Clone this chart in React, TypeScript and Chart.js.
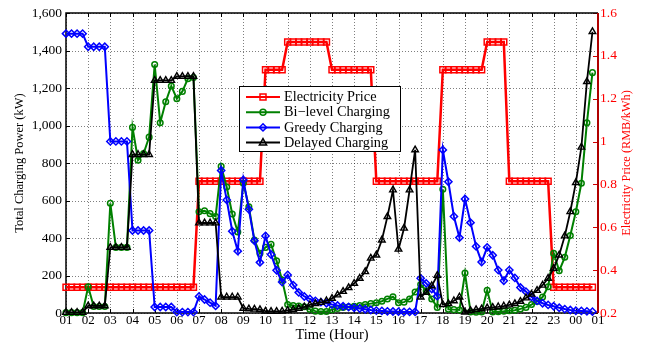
import React, { useEffect, useRef } from 'react';
import { Chart, registerables } from 'chart.js';

Chart.register(...registerables);

// 25 hour tick labels (every 4 quarter-hour steps)
const HOUR_LABELS = [
  '01', '02', '03', '04', '05', '06', '07', '08', '09', '10', '11', '12',
  '13', '14', '15', '16', '17', '18', '19', '20', '21', '22', '23', '00', '01',
];

// 96 quarter-hour samples, starting 01:00
const PRICE = [
  0.32, 0.32, 0.32, 0.32, 0.32, 0.32, 0.32, 0.32, 0.32, 0.32, 0.32, 0.32,
  0.32, 0.32, 0.32, 0.32, 0.32, 0.32, 0.32, 0.32, 0.32, 0.32, 0.32, 0.32,
  0.815, 0.815, 0.815, 0.815, 0.815, 0.815, 0.815, 0.815, 0.815, 0.815, 0.815, 0.815,
  1.335, 1.335, 1.335, 1.335,
  1.465, 1.465, 1.465, 1.465, 1.465, 1.465, 1.465, 1.465,
  1.335, 1.335, 1.335, 1.335, 1.335, 1.335, 1.335, 1.335,
  0.815, 0.815, 0.815, 0.815, 0.815, 0.815, 0.815, 0.815, 0.815, 0.815, 0.815, 0.815,
  1.335, 1.335, 1.335, 1.335, 1.335, 1.335, 1.335, 1.335,
  1.465, 1.465, 1.465, 1.465,
  0.815, 0.815, 0.815, 0.815, 0.815, 0.815, 0.815, 0.815,
  0.32, 0.32, 0.32, 0.32, 0.32, 0.32, 0.32, 0.32,
];

const BILEVEL = [
  2, 2, 2, 2,
  140, 35, 35, 35,
  585, 350, 350, 350,
  990, 815, 850, 938,
  1325, 1015, 1127, 1211,
  1143, 1182, 1250, 1256,
  540, 545, 530, 515,
  782, 672, 528, 432,
  692, 567, 389, 318,
  350, 366, 278, 176,
  45, 40, 37, 33,
  20, 10, 8, 8,
  18, 24, 29, 33,
  36, 40, 45, 50,
  55, 63, 75, 87,
  55, 58, 75, 112,
  152, 118, 75, 30,
  660, 20, 18, 16,
  213, 6, 4, 5,
  121, 5, 7, 9,
  12, 15, 22, 30,
  45, 62, 85, 140,
  318, 225, 297, 413,
  540, 692, 1015, 1282,
];

const GREEDY = [
  1490, 1490, 1490, 1490,
  1420, 1420, 1420, 1420,
  915, 915, 915, 915,
  440, 440, 440, 440,
  32, 32, 32, 32,
  5, 5, 5, 5,
  88, 72, 55, 38,
  760, 603, 436, 330,
  710, 553, 385, 270,
  411, 312, 228, 165,
  203, 149, 110, 88,
  75, 65, 58, 52,
  45, 40, 36, 32,
  28, 24, 20, 16,
  13, 11, 9, 8,
  7, 6, 6, 6,
  185, 158, 128, 90,
  870, 700, 515, 402,
  608, 482, 355, 272,
  350, 308, 229, 172,
  229, 187, 136, 114,
  86, 65, 52, 43,
  36, 28, 21, 16,
  12, 11, 9, 7,
];

const DELAYED = [
  3, 3, 3, 3,
  38, 38, 38, 38,
  350, 350, 350, 350,
  845, 845, 845, 845,
  1240, 1240, 1240, 1240,
  1262, 1262, 1262, 1262,
  480, 480, 480, 480,
  85, 85, 85, 85,
  25, 22, 20, 18,
  10, 8, 8, 10,
  14, 18, 24, 32,
  43, 50, 56, 65,
  78, 96, 115, 135,
  158, 185, 220, 292,
  309, 389, 514, 656,
  340, 452, 656, 870,
  85, 110, 145, 200,
  45, 50, 65, 85,
  5, 12, 18, 22,
  27, 30, 33, 37,
  43, 50, 62, 80,
  100, 120, 148, 185,
  238, 309, 411, 540,
  695, 884, 1234, 1500,
];

const SERIES_LABELS = ['Electricity Price', 'Bi\u2212level Charging', 'Greedy Charging', 'Delayed Charging'];
const SERIES_COLORS = ['#ff0000', '#008000', '#0000ff', '#000000'];
const SERIES_MARKERS = ['rect', 'circle', 'rectRot', 'triangle'];

const SERIF = "'Liberation Serif', 'Times New Roman', serif";

const toXY = (arr: number[]) => arr.map((v, i) => ({ x: i, y: v }));

function drawMarker(ctx: CanvasRenderingContext2D, style: string, cx: number, cy: number) {
  ctx.beginPath();
  if (style === 'rect') {
    ctx.rect(cx - 3, cy - 3, 6, 6);
  } else if (style === 'circle') {
    ctx.arc(cx, cy, 3, 0, Math.PI * 2);
  } else if (style === 'rectRot') {
    ctx.moveTo(cx, cy - 3.6);
    ctx.lineTo(cx + 3.6, cy);
    ctx.lineTo(cx, cy + 3.6);
    ctx.lineTo(cx - 3.6, cy);
    ctx.closePath();
  } else {
    ctx.moveTo(cx, cy - 4);
    ctx.lineTo(cx + 3.6, cy + 2.4);
    ctx.lineTo(cx - 3.6, cy + 2.4);
    ctx.closePath();
  }
  ctx.stroke();
}

const framePlugin = {
  id: 'matlabFrame',
  beforeDatasetsDraw(chart: any) {
    const { ctx, chartArea: a, scales } = chart;
    const xs = scales.x;
    const ys = scales.y;
    const y2 = scales.y2;
    ctx.save();
    // dotted grid
    ctx.lineWidth = 1;
    ctx.strokeStyle = 'rgba(0,0,0,0.5)';
    ctx.setLineDash([1, 2]);
    xs.ticks.forEach((t: any) => {
      const px = Math.round(xs.getPixelForValue(t.value)) + 0.5;
      ctx.beginPath();
      ctx.moveTo(px, a.top);
      ctx.lineTo(px, a.bottom);
      ctx.stroke();
    });
    ys.ticks.forEach((t: any) => {
      const py = Math.round(ys.getPixelForValue(t.value)) + 0.5;
      ctx.beginPath();
      ctx.moveTo(a.left, py);
      ctx.lineTo(a.right, py);
      ctx.stroke();
    });
    ctx.setLineDash([]);
    // inward tick marks
    ctx.strokeStyle = '#000';
    ctx.lineWidth = 1;
    xs.ticks.forEach((t: any) => {
      const px = Math.round(xs.getPixelForValue(t.value)) + 0.5;
      ctx.beginPath();
      ctx.moveTo(px, a.bottom);
      ctx.lineTo(px, a.bottom - 4);
      ctx.moveTo(px, a.top);
      ctx.lineTo(px, a.top + 4);
      ctx.stroke();
    });
    ys.ticks.forEach((t: any) => {
      const py = Math.round(ys.getPixelForValue(t.value)) + 0.5;
      ctx.beginPath();
      ctx.moveTo(a.left, py);
      ctx.lineTo(a.left + 4, py);
      ctx.stroke();
    });
    ctx.strokeStyle = '#d00000';
    y2.ticks.forEach((t: any) => {
      const py = Math.round(y2.getPixelForValue(t.value)) + 0.5;
      ctx.beginPath();
      ctx.moveTo(a.right, py);
      ctx.lineTo(a.right - 5, py);
      ctx.stroke();
    });
    // frame
    ctx.strokeStyle = '#000';
    ctx.lineWidth = 1.5;
    ctx.beginPath();
    ctx.moveTo(a.right, a.top);
    ctx.lineTo(a.left, a.top);
    ctx.lineTo(a.left, a.bottom);
    ctx.lineTo(a.right, a.bottom);
    ctx.stroke();
    ctx.strokeStyle = '#b00000';
    ctx.lineWidth = 2;
    ctx.beginPath();
    ctx.moveTo(a.right, a.top);
    ctx.lineTo(a.right, a.bottom);
    ctx.stroke();
    ctx.restore();
  },
  afterDatasetsDraw(chart: any) {
    const { ctx, chartArea: a } = chart;
    ctx.save();
    // legend box
    const bx = 239.5, by = 86.5, bw = 161, bh = 65;
    ctx.fillStyle = '#fff';
    ctx.fillRect(bx, by, bw, bh);
    ctx.strokeStyle = '#000';
    ctx.lineWidth = 1;
    ctx.strokeRect(bx, by, bw, bh);
    ctx.font = `14.3px ${SERIF}`;
    ctx.textBaseline = 'middle';
    ctx.textAlign = 'left';
    SERIES_LABELS.forEach((label, i) => {
      const ry = 97 + i * 15.2;
      ctx.strokeStyle = SERIES_COLORS[i];
      ctx.lineWidth = 2;
      ctx.beginPath();
      ctx.moveTo(246, ry);
      ctx.lineTo(280, ry);
      ctx.stroke();
      ctx.lineWidth = 1.5;
      drawMarker(ctx, SERIES_MARKERS[i], 263, ry);
      ctx.fillStyle = '#000';
      ctx.fillText(label, 284, ry + 0.5);
    });
    // right axis title (reads bottom to top)
    ctx.translate(627, (a.top + a.bottom) / 2);
    ctx.rotate(-Math.PI / 2);
    ctx.textAlign = 'center';
    ctx.fillStyle = '#ff0000';
    ctx.font = `12.3px ${SERIF}`;
    ctx.fillText('Electricity Price (RMB/kWh)', 0, 0);
    ctx.restore();
  },
};

export default function App() {
  const canvasRef = useRef<HTMLCanvasElement | null>(null);

  useEffect(() => {
    const canvas = canvasRef.current;
    if (!canvas) return;
    const common = { clip: false as any, fill: false, tension: 0 };
    const chart = new Chart(canvas, {
      type: 'line',
      data: {
        datasets: [
          {
            ...common,
            label: SERIES_LABELS[0],
            data: toXY(PRICE),
            yAxisID: 'y2',
            borderColor: SERIES_COLORS[0],
            borderWidth: 2.5,
            pointStyle: 'rect',
            pointRadius: 4.2,
            pointBorderWidth: 1.5,
            pointBorderColor: SERIES_COLORS[0],
            pointBackgroundColor: 'rgba(0,0,0,0)',
            order: 4,
          },
          {
            ...common,
            label: SERIES_LABELS[1],
            data: toXY(BILEVEL),
            yAxisID: 'y',
            borderColor: SERIES_COLORS[1],
            borderWidth: 2,
            pointStyle: 'circle',
            pointRadius: 2.8,
            pointBorderWidth: 1.5,
            pointBorderColor: SERIES_COLORS[1],
            pointBackgroundColor: 'rgba(0,0,0,0)',
            order: 3,
          },
          {
            ...common,
            label: SERIES_LABELS[2],
            data: toXY(GREEDY),
            yAxisID: 'y',
            borderColor: SERIES_COLORS[2],
            borderWidth: 2,
            pointStyle: 'rectRot',
            pointRadius: 3.6,
            pointBorderWidth: 1.5,
            pointBorderColor: SERIES_COLORS[2],
            pointBackgroundColor: 'rgba(0,0,0,0)',
            order: 2,
          },
          {
            ...common,
            label: SERIES_LABELS[3],
            data: toXY(DELAYED),
            yAxisID: 'y',
            borderColor: SERIES_COLORS[3],
            borderWidth: 1.8,
            pointStyle: 'triangle',
            pointRadius: 3.8,
            pointBorderWidth: 1.4,
            pointBorderColor: SERIES_COLORS[3],
            pointBackgroundColor: 'rgba(0,0,0,0)',
            order: 1,
          },
        ] as any,
      },
      options: {
        animation: false,
        responsive: true,
        maintainAspectRatio: false,
        layout: { padding: { top: 13, left: 0, right: 0, bottom: 0 } },
        plugins: {
          legend: { display: false },
          tooltip: { enabled: false },
        },
        scales: {
          x: {
            type: 'linear',
            position: 'bottom',
            min: 0,
            max: 96,
            grid: { display: false, drawTicks: false },
            border: { display: false },
            ticks: {
              stepSize: 4,
              autoSkip: false,
              maxRotation: 0,
              padding: 0,
              color: '#000',
              font: { family: SERIF, size: 13 },
              callback: (v: any) => HOUR_LABELS[Math.round(Number(v) / 4)],
            },
            title: {
              display: true,
              text: 'Time (Hour)',
              color: '#000',
              font: { family: SERIF, size: 14.5 },
              padding: { top: 0, bottom: 0 },
            },
            afterFit: (s: any) => { s.height = 31; },
          },
          y: {
            type: 'linear',
            position: 'left',
            min: 0,
            max: 1600,
            grid: { display: false, drawTicks: false },
            border: { display: false },
            ticks: {
              stepSize: 200,
              padding: 4,
              color: '#000',
              font: { family: SERIF, size: 13.5 },
            },
            title: {
              display: true,
              text: 'Total Charging Power (kW)',
              color: '#000',
              font: { family: SERIF, size: 12.5 },
              padding: { top: 12, bottom: 0 },
            },
            afterFit: (s: any) => { s.width = 66; },
          },
          y2: {
            type: 'linear',
            position: 'right',
            min: 0.2,
            max: 1.6,
            grid: { display: false, drawTicks: false },
            border: { display: false },
            ticks: {
              stepSize: 0.2,
              padding: 2,
              color: '#ff0000',
              font: { family: SERIF, size: 13.5 },
              callback: (v: any) => String(Math.round(Number(v) * 10) / 10),
            },
            afterFit: (s: any) => { s.width = 51; },
          },
        },
      } as any,
      plugins: [framePlugin as any],
    });
    return () => chart.destroy();
  }, []);

  return (
    <div style={{ position: 'absolute', left: 0, top: 0, width: 649, height: 344, background: '#fff' }}>
      <canvas ref={canvasRef} />
    </div>
  );
}
